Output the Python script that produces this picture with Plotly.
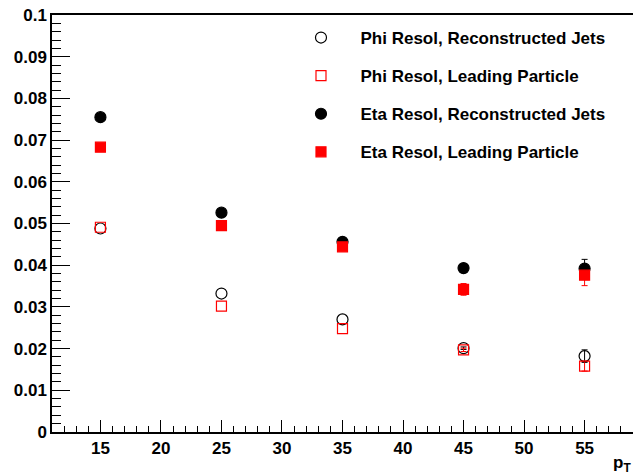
import plotly.graph_objects as go

pt = [15, 25, 35, 45, 55]
phi_reco = [0.0488, 0.0332, 0.0270, 0.0201, 0.0182]
phi_reco_err = [None, None, None, 0.0003, 0.0015]
phi_lead = [0.0491, 0.0302, 0.0248, 0.0197, 0.0158]
phi_lead_err = [None, None, None, 0.0004, 0.0012]
eta_reco = [0.0755, 0.0526, 0.0456, 0.0393, 0.0392]
eta_reco_err = [None, None, None, 0.0004, 0.0022]
eta_lead = [0.0683, 0.0495, 0.0444, 0.0342, 0.0376]
eta_lead_err = [None, None, None, 0.0014, 0.0025]

names = ["Phi Resol, Reconstructed Jets", "Phi Resol, Leading Particle",
         "Eta Resol, Reconstructed Jets", "Eta Resol, Leading Particle"]

FONT = "Liberation Sans"

fig = go.Figure()
series = [
    (phi_reco, phi_reco_err, "circle-open", "black", 11),
    (phi_lead, phi_lead_err, "square-open", "red", 10),
    (eta_reco, eta_reco_err, "circle", "black", 11),
    (eta_lead, eta_lead_err, "square", "red", 10),
]
# error bars only where an error is shown
for i, (vals, errs, sym, col, sz) in enumerate(series):
    ex = [x for x, e in zip(pt, errs) if e is not None]
    ey = [v for v, e in zip(vals, errs) if e is not None]
    ee = [e for e in errs if e is not None]
    fig.add_trace(go.Scatter(
        x=ex, y=ey, mode="markers", showlegend=False, hoverinfo="skip",
        marker=dict(size=1, color="rgba(0,0,0,0)"),
        error_y=dict(type="data", array=ee, color=col, thickness=1, width=3),
    ))
for i, (vals, errs, sym, col, sz) in enumerate(series):
    fig.add_trace(go.Scatter(
        x=pt, y=vals, mode="markers", name=names[i], legendgroup=f"g{i}",
        marker=dict(symbol=sym, color=col, size=sz, line=dict(color=col, width=1.2)),
    ))

fig.update_layout(
    width=633, height=474,
    margin=dict(l=52, r=0, t=15, b=42),
    paper_bgcolor="white", plot_bgcolor="white",
    font=dict(family=FONT, size=17, color="black"),
    showlegend=True,
    legend=dict(
        x=0.395, y=0.988, xanchor="left", yanchor="top",
        bgcolor="rgba(0,0,0,0)", borderwidth=0,
        font=dict(family=FONT, size=17, color="black", weight="bold"),
        tracegroupgap=13, itemwidth=69,
    ),
    xaxis=dict(
        range=[11, 59], tick0=15, dtick=5,
        showline=True, linecolor="black", linewidth=1.5, mirror=True,
        ticks="inside", ticklen=12, tickwidth=1, tickcolor="black",
        minor=dict(dtick=1, ticks="inside", ticklen=6, tickcolor="black", tickwidth=1),
        showgrid=False, zeroline=False,
        tickfont=dict(family=FONT, size=17, weight="bold"),
    ),
    yaxis=dict(
        range=[0, 0.1], tick0=0, dtick=0.01,
        showline=True, linecolor="black", linewidth=1.5,
        ticks="inside", ticklen=18, tickwidth=1, tickcolor="black",
        minor=dict(dtick=0.002, ticks="inside", ticklen=9, tickcolor="black", tickwidth=1),
        showgrid=False, zeroline=False,
        tickfont=dict(family=FONT, size=17, weight="bold"),
    ),
    annotations=[dict(
        xref="paper", yref="paper", x=1.0, y=-0.045, xanchor="right", yanchor="top",
        text="p<sub>T</sub>", showarrow=False,
        font=dict(family=FONT, size=17, weight="bold"),
    )],
)

fig.write_html("out.html")
